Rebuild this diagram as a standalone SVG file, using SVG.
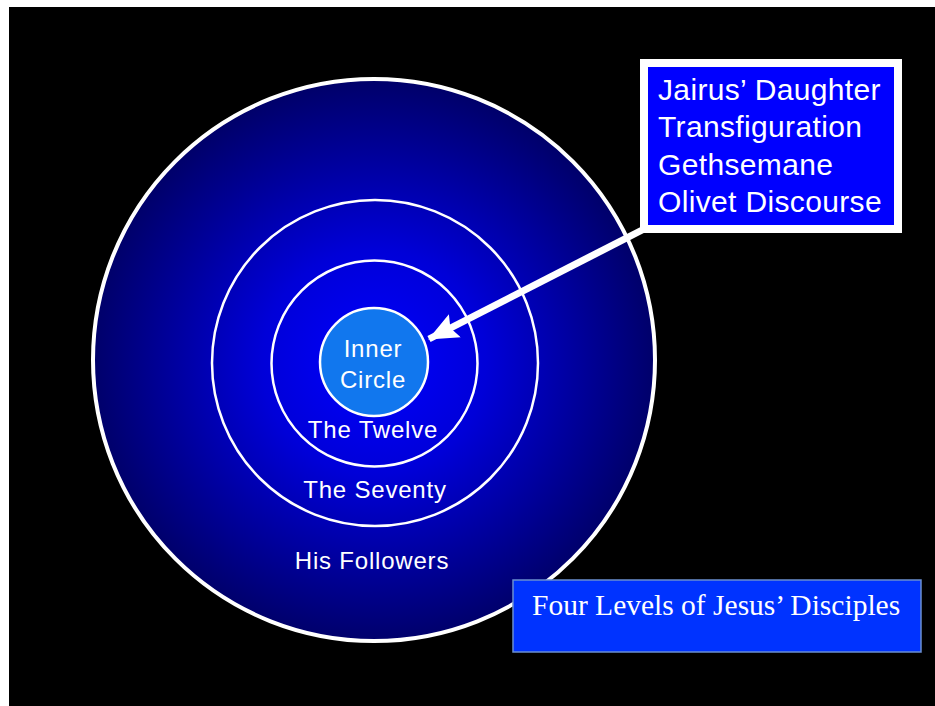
<svg xmlns="http://www.w3.org/2000/svg" width="935" height="706" viewBox="0 0 935 706">
<defs>
<radialGradient id="bg" gradientUnits="userSpaceOnUse" cx="374" cy="362" r="281">
<stop offset="0" stop-color="#0000ff"/>
<stop offset="0.4" stop-color="#0000d8"/>
<stop offset="1" stop-color="#00006a"/>
</radialGradient>
<marker id="ah" markerUnits="userSpaceOnUse" markerWidth="32" markerHeight="32" viewBox="0 0 32 32" refX="29" refY="16" orient="auto">
<path d="M0,3 L30,16 L0,29 L5,16 Z" fill="#ffffff"/>
</marker>
<style>
.ring{fill:none;stroke:#ffffff}
.lbl{font-family:"Liberation Sans",Arial,sans-serif;font-size:24px;fill:#ffffff;text-anchor:middle;letter-spacing:0.8px}
.box{font-family:"Liberation Sans",Arial,sans-serif;font-size:30px;fill:#ffffff;letter-spacing:0.35px}
.title{font-family:"Liberation Serif","Times New Roman",serif;font-size:29.5px;fill:#ffffff}
</style>
</defs>
<rect x="0" y="0" width="935" height="706" fill="#ffffff"/>
<rect x="9" y="7" width="926" height="699" fill="#000000"/>
<g id="followers">
<circle cx="374" cy="360" r="281" fill="url(#bg)" stroke="#ffffff" stroke-width="4"/>
<text class="lbl" x="372" y="569">His Followers</text>
</g>
<g id="seventy">
<circle class="ring" cx="375" cy="363" r="163" stroke-width="2.5"/>
<text class="lbl" x="375" y="498">The Seventy</text>
</g>
<g id="twelve">
<circle class="ring" cx="374.5" cy="363.5" r="103" stroke-width="2.5"/>
<text class="lbl" x="373" y="438">The Twelve</text>
</g>
<g id="inner">
<circle cx="374" cy="362" r="54" fill="#1177ee" stroke="#ffffff" stroke-width="2.5"/>
<text class="lbl" x="373" y="357" letter-spacing="0.3">Inner</text>
<text class="lbl" x="373" y="388" letter-spacing="0.3">Circle</text>
</g>
<g id="connectors">
<line x1="650" y1="226" x2="429" y2="339" stroke="#ffffff" stroke-width="7" marker-end="url(#ah)"/>
</g>
<g id="events">
<rect x="644" y="63" width="254" height="166" fill="#0000ff" stroke="#ffffff" stroke-width="8"/>
<text class="box" x="658" y="100">Jairus’ Daughter</text>
<text class="box" x="658" y="137">Transfiguration</text>
<text class="box" x="658" y="175">Gethsemane</text>
<text class="box" x="658" y="212">Olivet Discourse</text>
</g>
<g id="caption">
<rect x="513" y="580" width="408" height="72" fill="#0033ff" stroke="#6a8fcf" stroke-width="1.5"/>
<text class="title" x="532" y="615">Four Levels of Jesus’ Disciples</text>
</g>
</svg>
